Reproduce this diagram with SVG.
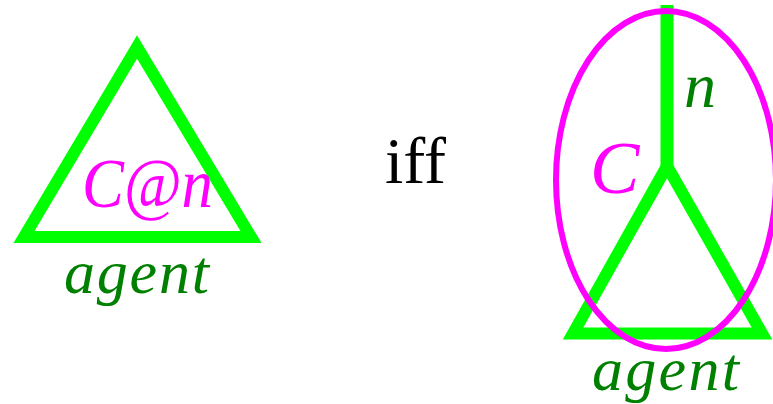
<svg xmlns="http://www.w3.org/2000/svg" width="773" height="404" viewBox="0 0 773 404">
<style>
.tri{fill:none;stroke:#00ff00;stroke-width:12;stroke-miterlimit:10}
.ell{fill:none;stroke:#ff00ff;stroke-width:6}
.stem{stroke:#00ff00;stroke-width:13}
.it{font-family:"Liberation Serif","Times New Roman",serif;font-style:italic}
.rm{font-family:"Liberation Serif","Times New Roman",serif}
.mag{fill:#ff00ff}
.dg{fill:#008000}
</style>
<g id="left-agent">
<polygon class="tri" points="137,47 24,237 251,237"/>
<text class="it mag" x="82" y="207" font-size="70" textLength="131" lengthAdjust="spacingAndGlyphs">C@n</text>
<text class="it dg" x="64" y="293" font-size="62" textLength="145" lengthAdjust="spacing">agent</text>
</g>
<g id="iff">
<text class="rm" x="385" y="183" font-size="66" fill="#000000">iff</text>
</g>
<g id="right-agent">
<polygon class="tri" points="667,166 573,333.5 762,333.5"/>
<line class="stem" x1="667" y1="5" x2="667" y2="168"/>
<ellipse class="ell" cx="666" cy="180" rx="110" ry="169"/>
<text class="it dg" x="684" y="107" font-size="64">n</text>
<text class="it mag" x="590" y="193" font-size="74">C</text>
<text class="it dg" x="592" y="390" font-size="62" textLength="147" lengthAdjust="spacing">agent</text>
</g>
</svg>
